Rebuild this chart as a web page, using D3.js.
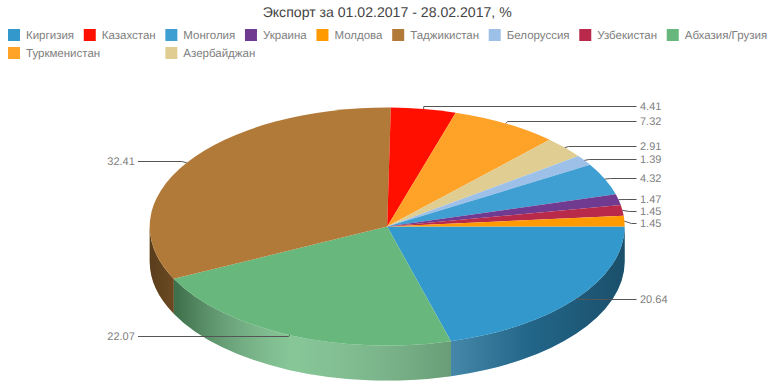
<!DOCTYPE html>
<html>
<head>
<meta charset="utf-8">
<script src="https://cdn.jsdelivr.net/npm/d3@7"></script>
<style>
  html, body { margin: 0; padding: 0; background: #fff; overflow: hidden; }
  text { font-family: "Liberation Sans", sans-serif; text-rendering: geometricPrecision; }
</style>
</head>
<body>
<script>
// legend order
const countries = ['Киргизия', 'Казахстан', 'Монголия', 'Украина', 'Молдова', 'Таджикистан', 'Белоруссия', 'Узбекистан', 'Абхазия/Грузия', 'Туркменистан', 'Азербайджан'];
const shares = [20.64, 4.41, 4.32, 1.47, 1.45, 32.41, 1.39, 1.45, 22.07, 7.32, 2.91];
const colors = ['#3398cc', '#ff0f00', '#3f9fd3', '#6f3a8f', '#ff9a00', '#b27a38', '#9dc0e8', '#b8294a', '#68b87d', '#ffa228', '#dfcd92'];
// clockwise from 3 o'clock
const sliceOrder = ['Киргизия', 'Абхазия/Грузия', 'Таджикистан', 'Казахстан', 'Туркменистан', 'Азербайджан', 'Белоруссия', 'Монголия', 'Украина', 'Узбекистан', 'Молдова'];
const title = 'Экспорт за 01.02.2017 - 28.02.2017, %';

const width = 774, height = 387;
const cx = 387.2, cy = 226.6, rx = 237.5, ry = 119, depth = 35;
const labelGap = 12; // min distance between labels in one column

const svg = d3.select('body').append('svg')
  .attr('width', width)
  .attr('height', height)
  .style('opacity', 0.999); // grey text edges

svg.append('text')
  .attr('x', 387.2)
  .attr('y', 16.5)
  .attr('text-anchor', 'middle')
  .attr('font-size', 14.1)
  .attr('fill', '#444')
  .text(title);

// legend, 2nd row snaps to the columns of the 1st row
const legend = svg.append('g');
const rowStarts = [];
let lx = 8, row = 0;
countries.forEach((name, i) => {
  const g = legend.append('g');
  const t = g.append('text')
    .attr('x', 18)
    .attr('y', 4)
    .attr('font-size', 11.5)
    .attr('fill', '#808080')
    .text(name);
  const w = t.node().getComputedTextLength();
  if (lx + 18 + w > width) {
    row += 1;
    lx = 8;
  }
  if (row > 0) {
    const snap = rowStarts.find(s => s >= lx);
    if (snap !== undefined) lx = snap;
  } else {
    rowStarts.push(lx);
  }
  g.attr('transform', `translate(${lx},${35 + row * 18})`);
  g.append('rect')
    .attr('y', -6)
    .attr('width', 12)
    .attr('height', 12)
    .attr('fill', colors[i]);
  lx += 18 + w + 9.7;
});

// pie
const slices = sliceOrder.map(name => {
  const i = countries.indexOf(name);
  return { name: name, value: shares[i], color: colors[i] };
});
const pie = d3.pie().sort(null).value(d => d.value)
  .startAngle(Math.PI / 2)
  .endAngle(Math.PI / 2 + 2 * Math.PI);
const arcs = pie(slices);

// d3 angle (0 at 12 o'clock) to the ellipse point
const px = a => cx + rx * Math.sin(a);
const py = a => cy - ry * Math.cos(a);

const defs = svg.append('defs');
const shade = defs.append('linearGradient')
  .attr('id', 'wallShade')
  .attr('gradientUnits', 'userSpaceOnUse')
  .attr('x1', cx - rx).attr('x2', cx + rx)
  .attr('y1', 0).attr('y2', 0);
[[0, '#000', 0.5], [0.06, '#000', 0.38], [0.3, '#fff', 0.2], [0.64, '#666', 0.35], [0.8, '#000', 0.33], [1, '#000', 0.48]].forEach(s => {
  shade.append('stop')
    .attr('offset', s[0])
    .attr('stop-color', s[1])
    .attr('stop-opacity', s[2]);
});

// visible part of the side: lower half of the ellipse
function wallPath(d) {
  const a0 = Math.max(d.startAngle, Math.PI / 2);
  const a1 = Math.min(d.endAngle, 1.5 * Math.PI);
  if (a1 <= a0) return null;
  return `M${px(a0)},${py(a0)}A${rx},${ry} 0 0 1 ${px(a1)},${py(a1)}` +
    `L${px(a1)},${py(a1) + depth}A${rx},${ry} 0 0 0 ${px(a0)},${py(a0) + depth}Z`;
}

const walls = svg.append('g');
const wallArcs = arcs.filter(d => wallPath(d));
walls.selectAll('.base').data(wallArcs).enter().append('path')
  .attr('class', 'base')
  .attr('d', wallPath)
  .attr('fill', d => d.data.color);
walls.selectAll('.shade').data(wallArcs).enter().append('path')
  .attr('class', 'shade')
  .attr('d', wallPath)
  .attr('fill', 'url(#wallShade)');

const arc = d3.arc().innerRadius(0).outerRadius(rx);
svg.append('g')
  .attr('transform', `translate(${cx},${cy}) scale(1,${ry / rx})`)
  .selectAll('path').data(arcs).enter().append('path')
  .attr('d', arc)
  .attr('fill', d => d.data.color);

// labels: y follows the slice middle, pushed apart when too close
const labels = arcs.map(d => {
  const mid = (d.startAngle + d.endAngle) / 2;
  const up = Math.cos(mid) > 0;
  return {
    value: d.data.value,
    sx: px(mid),
    sy: py(mid),
    kink: 7 * Math.sin(mid) * Math.sin(mid),
    right: Math.sin(mid) > 0,
    y: cy - ry * Math.cos(mid) * (up ? 1.018 : 1.01)
  };
});
[true, false].forEach(side => {
  const col = labels.filter(l => l.right === side && l.sy < cy).sort((a, b) => a.y - b.y);
  col.forEach((l, i) => {
    if (i > 0 && l.y - col[i - 1].y < labelGap) l.y = col[i - 1].y + labelGap;
  });
});

const leaders = svg.append('g');
labels.forEach(l => {
  const ly = Math.floor(l.y) + 0.5;
  const dir = l.right ? 1 : -1;
  const endX = l.right ? 636.5 : 138;
  leaders.append('path')
    .attr('d', d3.line()([[l.sx, l.sy], [l.sx + dir * l.kink, ly], [endX, ly]]))
    .attr('fill', 'none')
    .attr('stroke', '#555')
    .attr('stroke-width', 1);
  leaders.append('text')
    .attr('x', l.right ? 640 : 134.8)
    .attr('y', ly + 3.7)
    .attr('text-anchor', l.right ? 'start' : 'end')
    .attr('font-size', 11)
    .attr('fill', '#808080')
    .text(l.value.toFixed(2));
});
</script>
</body>
</html>
